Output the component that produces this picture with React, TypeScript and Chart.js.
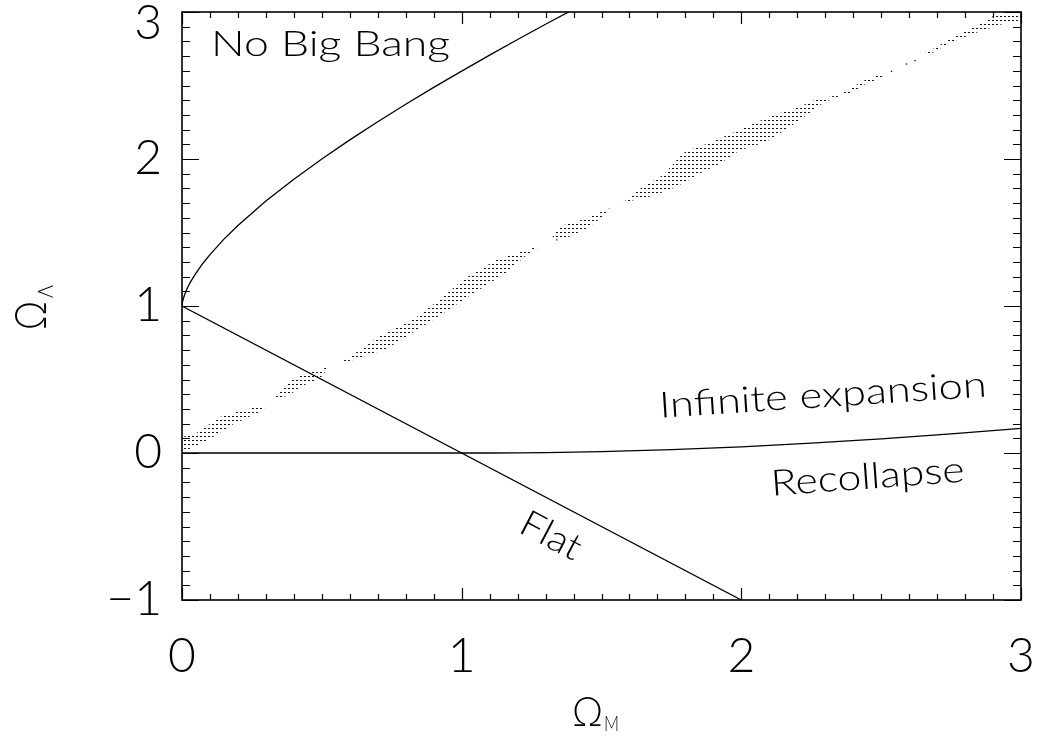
import React, { useEffect, useRef } from 'react';
import { Chart, registerables } from 'chart.js';

Chart.register(...registerables);

// ---- tick labels ----
const xTickValues = [0, 1, 2, 3];
const xTickLabels = ['0', '1', '2', '3'];
const yTickValues = [-1, 0, 1, 2, 3];
const yTickLabels = ['\u22121', '0', '1', '2', '3'];

// ---- "No Big Bang" boundary ----
const noBigBangM = [0, 0.0001, 0.001, 0.005, 0.01, 0.02, 0.03, 0.05, 0.075, 0.1, 0.15, 0.2, 0.3, 0.4, 0.5, 0.6, 0.7, 0.8, 0.9, 1.0, 1.1, 1.2, 1.3, 1.4];
const noBigBangL = [1.0, 1.004, 1.018, 1.051, 1.08, 1.126, 1.162, 1.224, 1.291, 1.35, 1.455, 1.548, 1.714, 1.862, 2.0, 2.13, 2.253, 2.372, 2.487, 2.598, 2.707, 2.813, 2.917, 3.018];

// ---- flat universe line ----
const flatM = [0, 2];
const flatL = [1, -1];

// ---- recollapse / infinite expansion boundary ----
const recollapseM = [0, 1.0, 1.1, 1.2, 1.3, 1.5, 1.75, 2.0, 2.25, 2.5, 2.75, 3.0];
const recollapseL = [0, 0, 0.0001, 0.0008, 0.0024, 0.0087, 0.0223, 0.0419, 0.0667, 0.0965, 0.13, 0.1675];

// ---- stippled confidence band (outlines of its pieces) ----
const bandAM = [0.0, 0.005, 0.064, 0.124, 0.183, 0.267, 0.29, 0.305, 0.207, 0.136, 0.04, 0.0];
const bandAL = [0.005, 0.01, 0.06, 0.125, 0.195, 0.27, 0.295, 0.33, 0.285, 0.245, 0.12, 0.11];

const bandBM = [0.33, 0.386, 0.422, 0.493, 0.525, 0.434, 0.386, 0.345];
const bandBL = [0.365, 0.395, 0.45, 0.505, 0.585, 0.535, 0.49, 0.41];

const bandCM = [0.565, 0.612, 0.732, 0.827, 0.922, 1.03, 1.161, 1.232, 1.268, 1.255, 1.125, 1.006, 0.922, 0.827, 0.708, 0.6];
const bandCL = [0.612, 0.632, 0.71, 0.822, 0.936, 1.072, 1.23, 1.345, 1.395, 1.395, 1.315, 1.18, 1.045, 0.908, 0.795, 0.655];

const bandDM = [1.316, 1.387, 1.446, 1.506, 1.53, 1.523, 1.435, 1.351, 1.33];
const bandDL = [1.445, 1.472, 1.528, 1.608, 1.665, 1.66, 1.588, 1.542, 1.485];

const bandEM = [1.572, 1.602, 1.673, 1.745, 1.816, 1.852, 1.924, 1.995, 2.09, 2.138, 2.21, 2.281, 2.329, 2.4, 2.448, 2.495, 2.51, 2.507, 2.448, 2.412, 2.353, 2.269, 2.21, 2.102, 2.007, 1.924, 1.888, 1.847, 1.792, 1.721, 1.649, 1.59];
const bandEL = [1.69, 1.715, 1.745, 1.79, 1.858, 1.903, 1.97, 2.06, 2.118, 2.175, 2.266, 2.368, 2.413, 2.458, 2.515, 2.545, 2.565, 2.583, 2.542, 2.505, 2.437, 2.407, 2.357, 2.289, 2.21, 2.142, 2.108, 2.085, 2.04, 1.892, 1.813, 1.726];

const bandFM = [2.662, 2.757, 2.852, 2.924, 2.971, 3.0, 3.0, 2.901, 2.865, 2.77, 2.686, 2.65];
const bandFL = [2.7, 2.8, 2.868, 2.913, 2.931, 2.947, 2.98, 2.975, 2.93, 2.84, 2.75, 2.715];

const bandDotsM = [1.34, 2.537, 2.591, 2.621];
const bandDotsL = [1.45, 2.596, 2.646, 2.669];

const zip = (ms: number[], ls: number[]) => ms.map((m, i) => ({ x: m, y: ls[i] }));

const FONT = 'Lato, "DejaVu Sans", sans-serif';
const WEIGHT = 300;

type Note = { text: string; x: number; y: number; angle: number; width: number; size: number; align: 'left' | 'center' };
const notes: Note[] = [
  { text: 'No Big Bang', x: 0.104, y: 2.703, angle: 0, width: 239, size: 36, align: 'left' },
  { text: 'Infinite expansion', x: 1.709, y: 0.24, angle: -3.7, width: 328, size: 36, align: 'left' },
  { text: 'Recollapse', x: 2.109, y: -0.291, angle: -4.2, width: 194, size: 36, align: 'left' },
  { text: 'Flat', x: 1.319, y: -0.563, angle: 27.7, width: 64, size: 37, align: 'center' },
];

function drawStretched(ctx: CanvasRenderingContext2D, text: string, size: number, width: number, align: 'left' | 'center', baseline: CanvasTextBaseline) {
  ctx.font = `${WEIGHT} ${size}px ${FONT}`;
  const w = ctx.measureText(text).width || 1;
  const s = width / w;
  ctx.save();
  ctx.scale(s, 1);
  ctx.textAlign = align;
  ctx.textBaseline = baseline;
  ctx.fillText(text, 0, 0);
  ctx.restore();
}

const decorPlugin = {
  id: 'decor',
  afterDatasetsDraw(chart: any) {
    const ctx: CanvasRenderingContext2D = chart.ctx;
    const xs = chart.scales.x;
    const ys = chart.scales.y;
    const { left, right, top, bottom } = chart.chartArea;
    ctx.save();
    ctx.strokeStyle = '#000';
    ctx.fillStyle = '#000';
    // frame
    ctx.lineWidth = 1.6;
    ctx.strokeRect(left, top, right - left, bottom - top);
    // ticks, inward on all four sides
    ctx.lineWidth = 1.2;
    ctx.beginPath();
    for (const t of xs.ticks) {
      const v = t.value;
      const major = Math.abs(v - Math.round(v)) < 1e-6;
      const len = major ? 12 : 6;
      const px = Math.round(xs.getPixelForValue(v)) + 0.5;
      ctx.moveTo(px, bottom);
      ctx.lineTo(px, bottom - len);
      ctx.moveTo(px, top);
      ctx.lineTo(px, top + len);
    }
    for (const t of ys.ticks) {
      const v = t.value;
      const major = Math.abs(v - Math.round(v)) < 1e-6;
      const len = major ? 17 : 8;
      const py = Math.round(ys.getPixelForValue(v)) + 0.5;
      ctx.moveTo(left, py);
      ctx.lineTo(left + len, py);
      ctx.moveTo(right, py);
      ctx.lineTo(right - len, py);
    }
    ctx.stroke();

    // topmost y tick label, nudged down so it stays on the page
    const topVal = yTickValues[yTickValues.length - 1];
    ctx.font = `${WEIGHT} 48px ${FONT}`;
    ctx.textAlign = 'right';
    ctx.textBaseline = 'middle';
    ctx.fillText(yTickLabels[yTickLabels.length - 1], left - 20, ys.getPixelForValue(topVal) + 12);

    // annotations
    for (const n of notes) {
      ctx.save();
      ctx.translate(xs.getPixelForValue(n.x), ys.getPixelForValue(n.y));
      ctx.rotate((n.angle * Math.PI) / 180);
      drawStretched(ctx, n.text, n.size, n.width, n.align, n.align === 'center' ? 'middle' : 'alphabetic');
      ctx.restore();
    }

    // x axis title: Omega_M
    ctx.save();
    ctx.translate(572, 726);
    drawStretched(ctx, '\u03A9', 42, 31, 'left', 'alphabetic');
    ctx.translate(32, 5);
    drawStretched(ctx, 'M', 22, 15, 'left', 'alphabetic');
    ctx.restore();

    // y axis title: Omega_Lambda (rotated)
    ctx.save();
    ctx.translate(46, 330);
    ctx.rotate(-Math.PI / 2);
    drawStretched(ctx, '\u03A9', 44, 29, 'left', 'alphabetic');
    ctx.translate(32, 7);
    drawStretched(ctx, '\u039B', 22, 13, 'left', 'alphabetic');
    ctx.restore();

    ctx.restore();
  },
};

export default function App() {
  const ref = useRef<HTMLCanvasElement>(null);
  useEffect(() => {
    const canvas = ref.current!;
    const ctx = canvas.getContext('2d')!;
    const pc = document.createElement('canvas');
    pc.width = 4;
    pc.height = 4;
    const p = pc.getContext('2d')!;
    p.fillStyle = '#111';
    p.fillRect(0, 0, 2, 1);
    const pattern = ctx.createPattern(pc, 'repeat')!;

    const bands: [number[], number[]][] = [
      [bandAM, bandAL], [bandBM, bandBL], [bandCM, bandCL],
      [bandDM, bandDL], [bandEM, bandEL], [bandFM, bandFL],
    ];
    const bandSets = bands.map(([m, l]) => ({
      data: zip(m, l),
      showLine: true,
      fill: 'shape',
      backgroundColor: pattern,
      borderColor: 'rgba(0,0,0,0)',
      borderWidth: 0.01,
      pointRadius: 0,
      tension: 0,
    }));
    const curve = (m: number[], l: number[]) => ({
      data: zip(m, l),
      showLine: true,
      fill: false,
      borderColor: '#000',
      borderWidth: 1.3,
      pointRadius: 0,
      tension: 0,
    });

    const topY = yTickValues[yTickValues.length - 1];
    const tickCb = (vals: number[], labels: string[], skip?: number) => (value: any) => {
      const v = Number(value);
      if (skip !== undefined && Math.abs(v - skip) < 1e-6) return '';
      const i = vals.findIndex((t) => Math.abs(t - v) < 1e-6);
      return i >= 0 ? labels[i] : '';
    };

    const chart = new Chart(canvas, {
      type: 'line',
      data: {
        datasets: [
          ...bandSets,
          {
            data: zip(bandDotsM, bandDotsL),
            showLine: false,
            pointStyle: 'rect',
            pointRadius: 1,
            pointBackgroundColor: '#222',
            pointBorderWidth: 0,
            borderWidth: 0,
          },
          curve(noBigBangM, noBigBangL),
          curve(flatM, flatL),
          curve(recollapseM, recollapseL),
        ] as any,
      },
      options: {
        animation: false,
        responsive: false,
        events: [],
        layout: { padding: { top: 12, right: 17, left: 0, bottom: 0 } },
        plugins: { legend: { display: false }, tooltip: { enabled: false }, title: { display: false } },
        scales: {
          x: {
            type: 'linear',
            min: 0,
            max: 3,
            grid: { display: false, drawTicks: false },
            border: { display: false },
            ticks: {
              stepSize: 0.1,
              autoSkip: false,
              maxRotation: 0,
              minRotation: 0,
              padding: 28,
              color: '#000',
              font: { family: FONT, size: 48, weight: String(WEIGHT) as any },
              callback: tickCb(xTickValues, xTickLabels),
            },
            afterFit: (s: any) => {
              s.height = 146;
              s.paddingLeft = 0;
              s.paddingRight = 0;
            },
          },
          y: {
            type: 'linear',
            min: -1,
            max: 3,
            grid: { display: false, drawTicks: false },
            border: { display: false },
            ticks: {
              stepSize: 0.1,
              autoSkip: false,
              padding: 20,
              color: '#000',
              font: { family: FONT, size: 48, weight: String(WEIGHT) as any },
              callback: tickCb(yTickValues, yTickLabels, topY),
            },
            afterFit: (s: any) => {
              s.width = 182;
              s.paddingTop = 0;
              s.paddingBottom = 0;
            },
          },
        },
      },
      plugins: [decorPlugin],
    });
    return () => chart.destroy();
  }, []);

  return (
    <div style={{ position: 'absolute', left: 0, top: 0, width: 1038, height: 746, background: '#fff' }}>
      <canvas ref={ref} width={1038} height={746} style={{ display: 'block' }} />
    </div>
  );
}
